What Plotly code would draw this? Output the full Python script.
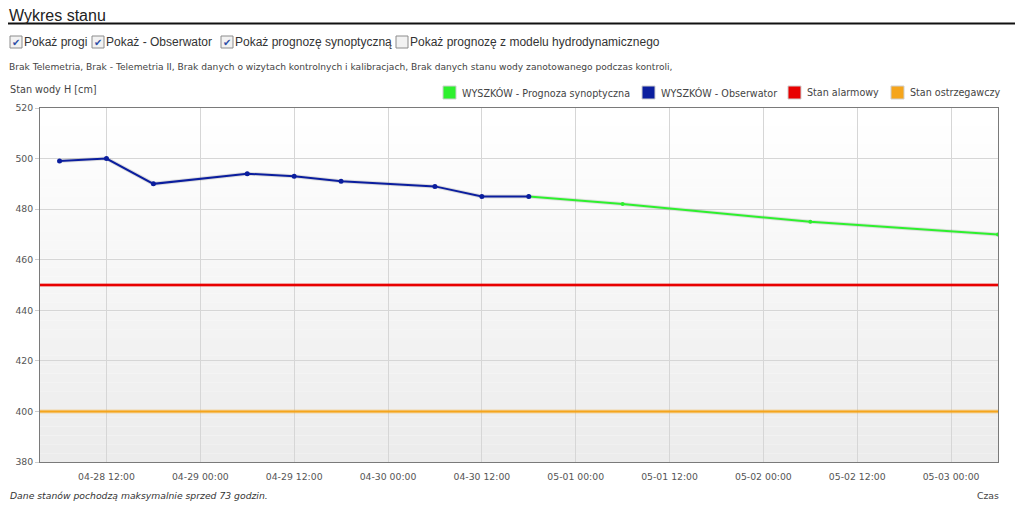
import plotly.graph_objects as go

# ---------------- data ----------------
obs_times = ["2013-04-28 06:00", "2013-04-28 12:00", "2013-04-28 18:00",
             "2013-04-29 06:00", "2013-04-29 12:00", "2013-04-29 18:00",
             "2013-04-30 06:00", "2013-04-30 12:00", "2013-04-30 18:00"]
obs_values = [499, 500, 490, 494, 493, 491, 489, 485, 485]

fc_times = ["2013-04-30 18:00", "2013-05-01 06:00", "2013-05-02 06:00", "2013-05-03 06:00"]
fc_values = [485, 482, 475, 470]

x_range = ["2013-04-28 03:30", "2013-05-03 06:00"]
alarm_level = 450
warning_level = 400

series_names = ["WYSZKÓW - Prognoza synoptyczna", "WYSZKÓW - Obserwator",
                "Stan alarmowy", "Stan ostrzegawczy"]
series_colors = ["#2ef02e", "#0b1e9e", "#e80000", "#f5a51c"]

checkbox_labels = ["Pokaż progi", "Pokaż - Obserwator", "Pokaż prognozę synoptyczną",
                   "Pokaż prognozę z modelu hydrodynamicznego"]
checkbox_checked = [True, True, True, False]

title_text = "Wykres stanu"
info_text = ("Brak Telemetria, Brak - Telemetria II, Brak danych o wizytach kontrolnych i "
             "kalibracjach, Brak danych stanu wody zanotowanego podczas kontroli,")
y_title = "Stan wody H [cm]"
x_title = "Czas"
footer_text = "Dane stanów pochodzą maksymalnie sprzed 73 godzin."

# ---------------- layout helpers ----------------
# page coordinates (the page body has an 8px margin)
OFF = 8
PAGE_W, PAGE_H = 1023, 515
W, H = PAGE_W - OFF, PAGE_H - OFF
L, R, T, B = 40, 998, 108, 462   # plot area in page pixels


def px(xp):
    return (xp - L) / (R - L)


def py(yp):
    return (B - yp) / (B - T)


SANS = "DejaVu Sans, Verdana, sans-serif"
ARIAL = "Liberation Sans, Arial, sans-serif"

fig = go.Figure()

# shadows
for xs, ys, c in [(obs_times, obs_values, "rgba(0,0,0,0.12)"),
                  (fc_times, fc_values, "rgba(0,0,0,0.10)")]:
    fig.add_trace(go.Scatter(x=xs, y=ys, mode="lines", line=dict(color=c, width=4),
                             hoverinfo="skip", showlegend=False))

fig.add_trace(go.Scatter(x=x_range, y=[alarm_level] * 2, mode="lines",
                         line=dict(color="rgba(232,0,0,0.35)", width=4),
                         hoverinfo="skip", showlegend=False))
fig.add_trace(go.Scatter(x=x_range, y=[warning_level] * 2, mode="lines",
                         line=dict(color="rgba(245,165,28,0.35)", width=4),
                         hoverinfo="skip", showlegend=False))

fig.add_trace(go.Scatter(x=x_range, y=[alarm_level] * 2, mode="lines", name=series_names[2],
                         line=dict(color=series_colors[2], width=2), showlegend=False))
fig.add_trace(go.Scatter(x=x_range, y=[warning_level] * 2, mode="lines", name=series_names[3],
                         line=dict(color=series_colors[3], width=2), showlegend=False))
fig.add_trace(go.Scatter(x=fc_times, y=fc_values, mode="lines+markers", name=series_names[0],
                         line=dict(color=series_colors[0], width=2),
                         marker=dict(color=series_colors[0], size=4), showlegend=False))
fig.add_trace(go.Scatter(x=obs_times, y=obs_values, mode="lines+markers", name=series_names[1],
                         line=dict(color=series_colors[1], width=2),
                         marker=dict(color=series_colors[1], size=5), showlegend=False))

shapes = []
annotations = []

# gradient plot background
n_bands = 40
for i in range(n_bands):
    t = i / (n_bands - 1)
    v = int(round(255 - (255 - 236) * t))
    shapes.append(dict(type="rect", xref="x domain", yref="y domain",
                       x0=0, x1=1, y0=1 - (i + 1) / n_bands, y1=1 - i / n_bands,
                       fillcolor=f"rgb({v},{v},{v})", line=dict(width=0), layer="below"))

# title + underline
annotations.append(dict(text=title_text, xref="paper", yref="paper", x=px(7), y=py(15.5),
                        xanchor="left", yanchor="middle", showarrow=False,
                        font=dict(family=ARIAL, size=16, color="#222")))
shapes.append(dict(type="line", xref="paper", yref="paper", x0=px(8), x1=px(PAGE_W + 2),
                   y0=py(23.5), y1=py(23.5), line=dict(color="#111", width=2)))

# checkboxes
box_x = [10, 92, 221, 396]
for bx, lab, chk in zip(box_x, checkbox_labels, checkbox_checked):
    shapes.append(dict(type="rect", xref="paper", yref="paper",
                       x0=px(bx), x1=px(bx + 12), y0=py(48), y1=py(36),
                       fillcolor="#f2f2f2", line=dict(color="#8c8c8c", width=1)))
    if chk:
        annotations.append(dict(text="✔", xref="paper", yref="paper", x=px(bx + 6), y=py(42),
                                xanchor="center", yanchor="middle", showarrow=False,
                                font=dict(family=SANS, size=10, color="#2c4ea6")))
    annotations.append(dict(text=lab, xref="paper", yref="paper", x=px(bx + 12), y=py(42.5),
                            xanchor="left", yanchor="middle", showarrow=False,
                            font=dict(family=ARIAL, size=12, color="#333")))

# info line
annotations.append(dict(text=info_text, xref="paper", yref="paper", x=px(7), y=py(67),
                        xanchor="left", yanchor="middle", showarrow=False,
                        font=dict(family=SANS, size=9.1, color="#444")))

# y axis title
annotations.append(dict(text=y_title, xref="paper", yref="paper", x=px(8), y=py(90),
                        xanchor="left", yanchor="middle", showarrow=False,
                        font=dict(family=SANS, size=9.7, color="#444")))

# legend (manual)
leg_sq = [443, 642, 788, 891]
for sx, name, col in zip(leg_sq, series_names, series_colors):
    shapes.append(dict(type="rect", xref="paper", yref="paper",
                       x0=px(sx), x1=px(sx + 13), y0=py(99), y1=py(86),
                       fillcolor=col, line=dict(color="#cfcfcf", width=1)))
    annotations.append(dict(text=name, xref="paper", yref="paper", x=px(sx + 17), y=py(92.5),
                            xanchor="left", yanchor="middle", showarrow=False,
                            font=dict(family=SANS, size=9.6, color="#444")))

# footer
annotations.append(dict(text="<i>" + footer_text + "</i>", xref="paper", yref="paper",
                        x=px(8), y=py(495), xanchor="left", yanchor="middle", showarrow=False,
                        font=dict(family=SANS, size=9.25, color="#333")))
annotations.append(dict(text=x_title, xref="paper", yref="paper",
                        x=px(1001), y=py(495), xanchor="right", yanchor="middle", showarrow=False,
                        font=dict(family=SANS, size=9.3, color="#444")))

fig.update_layout(
    width=W, height=H,
    margin=dict(l=L - OFF, r=PAGE_W - R, t=T - OFF, b=PAGE_H - B, pad=0, autoexpand=False),
    paper_bgcolor="white", plot_bgcolor="white",
    showlegend=False,
    shapes=shapes, annotations=annotations,
    xaxis=dict(type="date", range=x_range, tickformat="%m-%d %H:%M",
               tick0="2013-04-28 00:00", dtick=43200000, automargin=False,
               showgrid=True, gridcolor="#d6d6d6", gridwidth=1,
               showline=True, linecolor="#7a7a7a", linewidth=1, mirror=True,
               ticks="outside", ticklen=6, tickcolor="rgba(0,0,0,0)", zeroline=False,
               tickfont=dict(family=SANS, size=9.3, color="#555")),
    yaxis=dict(range=[380, 520], dtick=20, tick0=380, automargin=False,
               showgrid=True, gridcolor="#d6d6d6", gridwidth=1,
               showline=True, linecolor="#7a7a7a", linewidth=1, mirror=True,
               ticks="outside", ticklen=4, tickcolor="#cccccc", zeroline=False,
               tickfont=dict(family=SANS, size=9.3, color="#555")),
)

fig.write_html("out.html")
